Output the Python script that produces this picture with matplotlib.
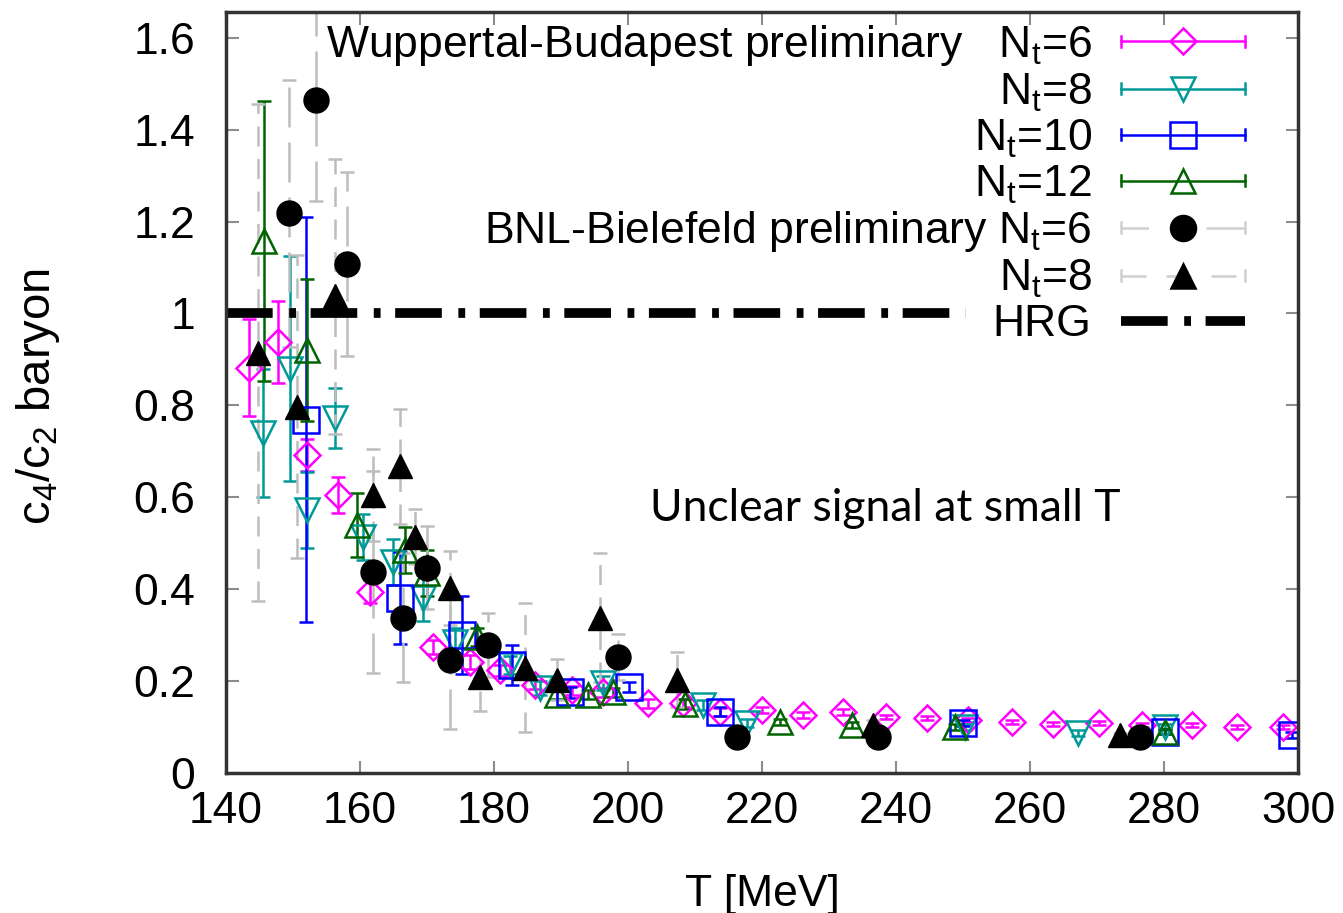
import matplotlib
matplotlib.use("Agg")
import matplotlib.pyplot as plt
from matplotlib.lines import Line2D
from matplotlib.legend_handler import HandlerLine2D
from matplotlib.ticker import FormatStrFormatter

plt.rcParams['font.family'] = ['Liberation Sans', 'DejaVu Sans']
plt.rcParams['font.size'] = 32
plt.rcParams['mathtext.fontset'] = 'custom'
plt.rcParams['mathtext.rm'] = 'Liberation Sans'
plt.rcParams['mathtext.it'] = 'Liberation Sans'

# Wuppertal-Budapest Nt=6
wb6_T = [143.4, 147.8, 152.1, 156.7, 161.5, 170.9, 176.4, 180.9, 186.1, 191.6, 196.3, 203.0,
         208.2, 213.7, 220.0, 226.1, 232.1, 238.5, 244.6, 250.7, 257.3, 263.4, 270.3, 276.7,
         284.2, 290.9, 297.8]
wb6_v = [0.882, 0.938, 0.692, 0.605, 0.394, 0.274, 0.242, 0.224, 0.192, 0.180, 0.176, 0.152,
         0.152, 0.133, 0.137, 0.126, 0.133, 0.122, 0.120, 0.115, 0.111, 0.106, 0.109, 0.104,
         0.104, 0.100, 0.100]
wb6_e = [0.105, 0.09, 0.035, 0.04, 0.025, 0.015, 0.015, 0.012, 0.01, 0.01, 0.01, 0.01,
         0.008, 0.008, 0.006, 0.006, 0.006, 0.005, 0.005, 0.005, 0.004, 0.004, 0.004, 0.004,
         0.004, 0.004, 0.004]

# Wuppertal-Budapest Nt=8
wb8_T = [145.5, 149.6, 152.1, 156.3, 160.4, 164.9, 169.4, 174.2, 182.4, 186.9, 196.3, 211.2,
         217.8, 250.3, 267.2, 280.1]
wb8_v = [0.74, 0.88, 0.573, 0.773, 0.514, 0.459, 0.381, 0.285, 0.235, 0.185, 0.196, 0.148,
         0.109, 0.100, 0.087, 0.100]
wb8_e = [0.14, 0.245, 0.083, 0.065, 0.05, 0.05, 0.05, 0.03, 0.02, 0.015, 0.015, 0.01,
         0.008, 0.006, 0.006, 0.006]

# Wuppertal-Budapest Nt=10
wb10_T = [151.9, 166.0, 175.2, 182.7, 191.3, 200.1, 213.7, 250.0, 280.1, 299.1]
wb10_v = [0.769, 0.381, 0.300, 0.235, 0.176, 0.187, 0.133, 0.109, 0.090, 0.083]
wb10_e = [0.44, 0.10, 0.085, 0.043, 0.012, 0.01, 0.01, 0.006, 0.006, 0.006]

# Wuppertal-Budapest Nt=12
wb12_T = [145.7, 152.1, 159.6, 166.7, 170.0, 177.5, 189.4, 194.0, 197.8, 208.5, 222.7, 233.4,
          248.8, 280.1]
wb12_v = [1.157, 0.92, 0.54, 0.486, 0.435, 0.296, 0.17, 0.17, 0.176, 0.15, 0.111, 0.105,
          0.100, 0.090]
wb12_e = [0.305, 0.155, 0.07, 0.05, 0.05, 0.02, 0.01, 0.01, 0.01, 0.01, 0.006, 0.006,
          0.006, 0.006]

# BNL-Bielefeld Nt=6
bnl6_T = [149.4, 153.4, 158.1, 161.9, 166.4, 170.0, 173.4, 179.1, 198.5, 216.3, 237.3, 276.4]
bnl6_v = [1.218, 1.464, 1.107, 0.438, 0.338, 0.447, 0.246, 0.279, 0.253, 0.078, 0.078, 0.078]
bnl6_e = [0.29, 0.22, 0.20, 0.22, 0.14, 0.09, 0.15, 0.07, 0.05, 0.005, 0.005, 0.005]

# BNL-Bielefeld Nt=8
bnl8_T = [144.8, 150.6, 156.3, 161.9, 166.0, 168.2, 173.4, 177.9, 184.6, 189.4, 195.8, 207.3,
          236.6, 273.4]
bnl8_v = [0.915, 0.797, 1.037, 0.605, 0.667, 0.514, 0.403, 0.209, 0.229, 0.203, 0.338, 0.203,
          0.105, 0.083]
bnl8_e = [0.54, 0.33, 0.30, 0.10, 0.125, 0.06, 0.08, 0.075, 0.14, 0.045, 0.14, 0.06,
          0.01, 0.005]

hrg_T = [140, 250.5]
hrg_v = [1.0, 1.0]

x_ticks = [140, 160, 180, 200, 220, 240, 260, 280, 300]
y_ticks = [0, 0.2, 0.4, 0.6, 0.8, 1.0, 1.2, 1.4, 1.6]

MAG = '#ff00ff'
TEAL = '#009999'
BLUE = '#0000ff'
GREEN = '#006400'
GREY = '#bdbdbd'

fig = plt.figure(figsize=(13.43, 9.13), dpi=100)
ax = fig.add_axes([226 / 1343, 140 / 913, 1072 / 1343, 761 / 913])

series = [
    (wb6_T, wb6_v, wb6_e, 'D', MAG, 13.5),
    (wb8_T, wb8_v, wb8_e, 'v', TEAL, 17),
    (wb10_T, wb10_v, wb10_e, 's', BLUE, 18.5),
    (wb12_T, wb12_v, wb12_e, '^', GREEN, 17),
]
for T, v, e, m, c, ms in series:
    ax.errorbar(T, v, yerr=e, fmt=m, color=c, mfc='none', mec=c, ms=ms, mew=1.8,
                ecolor=c, elinewidth=1.8, capsize=5, capthick=1.8)

for T, v, e, m, ms, dash in [(bnl6_T, bnl6_v, bnl6_e, 'o', 18, (0, (16, 6))),
                             (bnl8_T, bnl8_v, bnl8_e, '^', 17, (0, (8, 5)))]:
    eb = ax.errorbar(T, v, yerr=e, fmt=m, color='black', ms=ms, ecolor=GREY,
                     elinewidth=1.8, capsize=5, capthick=1.8)
    for lc in eb[2]:
        lc.set_linestyle(dash)

ax.plot(hrg_T, hrg_v, color='black', lw=7, linestyle=(0, (4.8, 1.7, 0.7, 1.5)),
        solid_capstyle='butt', dash_capstyle='butt')

ax.text(238.4, 0.575, 'Unclear signal at small T', family='Lato', fontsize=32,
        ha='center', va='center')

ax.set_xlim(140, 300)
ax.set_ylim(0, 1.656)
ax.set_xticks(x_ticks)
ax.set_yticks(y_ticks)
ax.yaxis.set_major_formatter(FormatStrFormatter('%g'))
ax.tick_params(direction='in', length=9, width=1.5, color='#8c8c8c',
               top=True, right=True, labelsize=32)
ax.tick_params(axis='x', pad=13)
ax.tick_params(axis='y', pad=22)
for s in ax.spines.values():
    s.set_linewidth(2.5)
    s.set_color('#333333')

ax.set_xlabel('T [MeV]', fontsize=32, labelpad=30)
ax.set_ylabel('c$_4$/c$_2$ baryon', fontsize=34)
ax.yaxis.set_label_coords(-0.153, 0.495)


class CapHandler(HandlerLine2D):
    def create_artists(self, legend, orig_handle, xdescent, ydescent, width, height,
                       fontsize, trans):
        arts = super().create_artists(legend, orig_handle, xdescent, ydescent, width,
                                      height, fontsize, trans)
        if getattr(orig_handle, 'caps', False):
            y = (height - ydescent) / 2
            for x in (-xdescent, width - xdescent):
                cap = Line2D([x, x], [y - 4, y + 4], color=orig_handle.caps,
                             lw=1.8, transform=trans)
                arts.append(cap)
        return arts


def handle(marker, color, lcolor, ms, fc, ls='-', lw=1.8, caps=True):
    h = Line2D([], [], marker=marker, color=lcolor, mec=color, mfc=fc, ms=ms, mew=1.8,
               lw=lw, linestyle=ls)
    h.caps = lcolor if caps else False
    return h


handles = [
    handle('D', MAG, MAG, 13.5, 'none'),
    handle('v', TEAL, TEAL, 17, 'none'),
    handle('s', BLUE, BLUE, 18.5, 'none'),
    handle('^', GREEN, GREEN, 17, 'none'),
    handle('o', 'black', '#d0d0d0', 18, 'black', ls=(0, (11, 23, 16, 2))),
    handle('^', 'black', '#d0d0d0', 17, 'black', ls=(0, (10, 8))),
    handle('', 'black', 'black', 0, 'none', ls=(0, (4.8, 1.7, 0.7, 1.5)), lw=7, caps=False),
]
labels = ['Wuppertal-Budapest preliminary   N$_t$=6', 'N$_t$=8', 'N$_t$=10', 'N$_t$=12',
          'BNL-Bielefeld preliminary N$_t$=6', 'N$_t$=8', 'HRG']
ax.legend(handles, labels, loc='upper right', bbox_to_anchor=(0.9506, 0.986),
          frameon=False, markerfirst=False, numpoints=1, handlelength=2.8,
          handletextpad=0.65, labelspacing=0.085, borderpad=0, borderaxespad=0,
          fontsize=32, handler_map={Line2D: CapHandler()})

fig.savefig('out.png', dpi=100)
